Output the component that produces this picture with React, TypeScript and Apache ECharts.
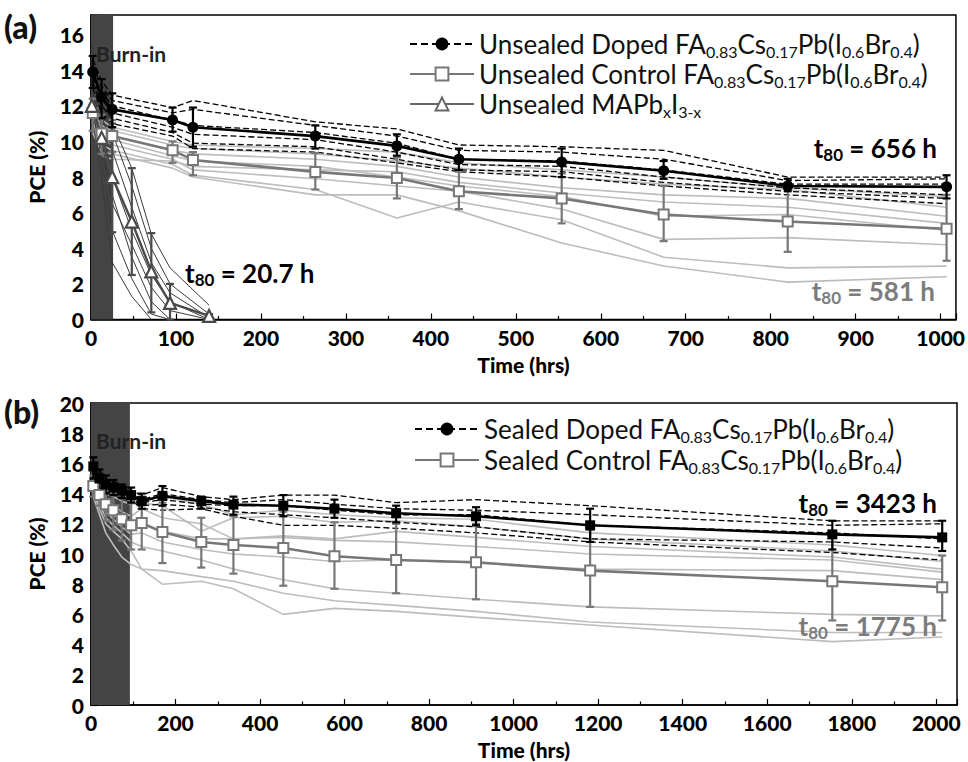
import React, { useEffect, useRef } from "react";
import * as echarts from "echarts";

// ---------- Panel (a): unsealed ----------
const xA = [2, 12.5, 25, 96, 120, 264, 360, 433, 554, 674, 820, 1007];
const dopedA = [13.9, 12.5, 11.8, 11.2, 10.8, 10.3, 9.75, 9.0, 8.85, 8.35, 7.5, 7.45];
const dopedALo = [13.0, 11.3, 10.8, 10.55, 9.7, 9.6, 9.2, 8.4, 8.0, 7.9, 7.2, 6.8];
const dopedAHi = [14.8, 13.5, 12.7, 11.9, 11.9, 10.9, 10.4, 9.6, 9.6, 8.9, 7.9, 8.1];
const controlA = [11.6, 10.45, 10.3, 9.5, 8.96, 8.29, 7.95, 7.2, 6.8, 5.9, 5.5, 5.1];
const controlALo = [10.6, 9.3, 9.4, 8.8, 8.1, 7.3, 6.8, 6.2, 5.4, 4.4, 3.8, 3.3];
const controlAHi = [12.4, 11.5, 11.2, 10.0, 9.4, 9.35, 9.1, 8.3, 8.2, 7.5, 7.4, 7.0];
const xM = [1, 12.5, 25, 48, 71, 93, 139];
const mapbiA = [12.0, 10.2, 8.0, 5.5, 2.7, 0.93, 0.2];
const mapbiALo = [null, null, 4.9, 2.5, 0.4, 0, 0];
const mapbiAHi = [null, null, 11.0, 8.5, 4.85, 2.0, 0.3];

const dopedATraces = [
  [14.6, 13.4, 12.6, 11.9, 12.3, 11.1, 10.7, 9.8, 9.7, 9.5, 8.0, 8.0],
  [14.2, 13.1, 12.3, 11.6, 11.8, 10.9, 10.3, 9.5, 9.4, 9.0, 7.8, 7.9],
  [13.8, 12.8, 12.0, 11.2, 10.9, 10.5, 9.9, 9.0, 8.9, 8.4, 7.6, 7.6],
  [13.6, 12.4, 11.6, 10.8, 10.4, 10.1, 9.4, 8.7, 8.6, 8.0, 7.4, 7.0],
  [13.3, 12.0, 11.3, 10.5, 9.9, 9.7, 9.0, 8.4, 8.3, 7.7, 7.2, 6.8],
  [13.0, 11.6, 11.0, 10.3, 9.6, 9.4, 8.8, 8.3, 8.0, 7.5, 7.0, 6.5],
];
const controlATraces = [
  [12.0, 11.2, 10.8, 10.0, 9.8, 9.6, 9.4, 8.8, 8.4, 8.0, 7.4, 6.9],
  [11.8, 10.9, 10.6, 9.8, 9.6, 9.3, 8.9, 8.5, 8.0, 7.6, 7.3, 6.3],
  [11.5, 10.7, 10.3, 9.5, 9.3, 9.0, 8.6, 8.0, 7.4, 7.0, 6.8, 5.8],
  [11.3, 10.4, 10.1, 9.2, 8.9, 8.6, 8.0, 7.5, 6.9, 5.8, 5.9, 5.0],
  [11.0, 10.1, 9.8, 9.0, 8.4, 7.9, 7.5, 7.2, 6.2, 4.5, 4.6, 4.2],
  [10.8, 9.8, 9.5, 8.7, 8.1, 7.3, 5.7, 6.6, 5.6, 3.5, 2.9, 3.0],
  [10.5, 9.4, 9.3, 8.5, 8.0, 7.0, 7.0, 6.1, 4.3, 3.0, 2.1, 2.4],
  [11.2, 9.2, 9.0, 8.9, 8.6, 8.4, 8.3, 7.7, 7.1, 6.6, 6.3, 5.4],
];
const mapbiATraces = [
  [15.5, 12.0, 11.0, 8.5, 4.8, 2.9, 0.8],
  [14.5, 12.3, 10.5, 7.5, 4.0, 2.0, 0.3],
  [13.8, 11.5, 9.5, 6.3, 3.2, 1.5, 0.1],
  [13.0, 10.8, 8.0, 5.0, 2.5, 1.0, 0],
  [12.5, 10.0, 7.0, 3.5, 1.0, 0, null],
  [12.0, 9.0, 5.0, 2.3, 0.3, 0, null],
  [11.5, 8.0, 3.2, 1.3, 0, null, null],
  [11.8, 9.5, 6.5, 4.2, 1.8, 0.5, 0],
];

// ---------- Panel (b): sealed ----------
const xB = [5.5, 20, 35, 53, 73, 95, 120, 169, 261, 337, 455, 576, 722, 911, 1181, 1754, 2014];
const dopedB = [15.8, 15.0, 14.6, 14.4, 14.2, 13.9, 13.5, 13.85, 13.5, 13.27, 13.2, 13.0, 12.7, 12.5, 11.9, 11.3, 11.1];
const dopedBLo = [15.0, 14.3, 14.0, 13.9, 13.7, 13.4, 13.0, 13.2, 13.0, 12.6, 12.5, 12.4, 12.1, 11.9, 10.8, 10.3, 10.2];
const dopedBHi = [16.4, 15.6, 15.2, 14.9, 14.6, 14.4, 14.0, 14.5, 13.8, 13.8, 13.9, 13.6, 13.2, 13.1, 13.0, 12.2, 12.2];
const controlB = [14.5, 13.9, 13.3, 12.9, 12.3, 11.9, 12.05, 11.45, 10.8, 10.6, 10.4, 9.85, 9.6, 9.45, 8.9, 8.2, 7.8];
const controlBLo = [13.8, 13.2, 12.2, 11.6, 10.9, 10.3, 10.3, 9.4, 9.1, 8.7, 7.9, 7.7, 7.4, 7.0, 6.5, 5.6, 5.6];
const controlBHi = [15.2, 14.6, 14.2, 14.0, 13.7, 13.5, 13.8, 13.4, 12.4, 12.5, 12.8, 12.1, 12.0, 12.0, 11.6, 10.8, 9.9];

const dopedBTraces = [
  [16.0, 15.6, 15.0, 14.8, 14.6, 14.2, 13.9, 14.4, 13.8, 13.6, 13.9, 13.9, 13.4, 13.6, 13.2, 12.2, 12.2],
  [15.8, 15.2, 14.8, 14.6, 14.4, 14.0, 13.6, 14.0, 13.6, 13.4, 13.6, 13.3, 13.0, 12.9, 12.6, 11.9, 12.0],
  [15.6, 14.8, 14.5, 14.3, 14.2, 13.9, 13.4, 13.6, 13.3, 13.2, 13.2, 12.9, 12.6, 12.6, 11.9, 11.4, 11.0],
  [15.4, 14.6, 14.3, 14.2, 14.0, 13.7, 13.2, 13.3, 13.1, 12.8, 12.6, 12.4, 12.1, 11.8, 11.0, 10.8, 10.4],
  [15.2, 14.3, 14.1, 14.0, 13.9, 13.6, 13.0, 12.9, 13.0, 12.5, 11.9, 11.9, 11.7, 11.4, 10.8, 10.1, 9.6],
];
const controlBTraces = [
  [15.0, 14.6, 14.3, 14.0, 13.9, 13.7, 13.5, 13.8, 13.3, 12.6, 12.9, 12.6, 12.4, 12.3, 11.4, 10.6, 9.9],
  [14.9, 14.3, 14.0, 13.8, 13.5, 13.3, 13.4, 13.2, 11.5, 12.4, 12.5, 12.1, 12.2, 11.8, 11.0, 10.2, 9.5],
  [14.7, 14.1, 13.6, 13.2, 12.8, 12.5, 13.0, 12.4, 12.0, 11.0, 11.2, 11.0, 11.5, 11.1, 10.5, 9.8, 9.0],
  [14.6, 13.8, 13.2, 12.6, 12.2, 11.9, 12.0, 11.5, 11.0, 11.0, 11.1, 10.9, 10.8, 10.5, 10.0, 9.6, 8.8],
  [14.5, 13.6, 12.8, 12.3, 11.8, 11.3, 11.4, 10.8, 10.3, 10.0, 9.8, 9.5, 9.6, 9.4, 9.0, 8.9, 8.3],
  [14.3, 13.3, 12.4, 11.9, 11.4, 10.8, 10.5, 10.2, 9.6, 9.0, 8.3, 7.7, 7.4, 7.0, 6.5, 6.0, 5.9],
  [14.1, 13.0, 12.0, 11.5, 11.0, 10.2, 9.0, 8.0, 8.2, 7.7, 6.0, 6.4, 6.2, 5.8, 5.3, 4.2, 4.5],
  [13.8, 12.6, 11.4, 10.6, 9.8, 9.3, 9.0, 8.9, 8.5, 8.2, 7.4, 6.9, 6.6, 6.2, 5.5, 4.8, 4.8],
];

const burnInA = 26;
const burnInB = 92;

const FONT = "Lato";

const pairs = (xs: number[], ys: (number | null)[]) =>
  xs.map((x, i) => [x, ys[i]]).filter((d) => d[1] !== null && d[1] !== undefined);

const triples = (xs: number[], lo: (number | null)[], hi: (number | null)[]) =>
  xs.map((x, i) => [x, lo[i], hi[i]]).filter((d) => d[1] !== null && d[2] !== null);

function traceSeries(ax: number, xs: number[], traces: (number | null)[][], lineStyle: any) {
  return traces.map((t) => ({
    type: "line",
    xAxisIndex: ax,
    yAxisIndex: ax,
    data: pairs(xs, t),
    symbol: "none",
    silent: true,
    z: 2,
    lineStyle,
  }));
}

function errSeries(ax: number, xs: number[], lo: any[], hi: any[], color: string, z: number) {
  return {
    type: "custom",
    xAxisIndex: ax,
    yAxisIndex: ax,
    silent: true,
    z,
    data: triples(xs, lo, hi),
    encode: { x: 0, y: [1, 2] },
    renderItem: (params: any, api: any) => {
      const x = api.value(0);
      const p1 = api.coord([x, api.value(1)]);
      const p2 = api.coord([x, api.value(2)]);
      const w = 4;
      const st = { stroke: color, lineWidth: 2.2 };
      return {
        type: "group",
        children: [
          { type: "line", shape: { x1: p1[0], y1: p1[1], x2: p2[0], y2: p2[1] }, style: st },
          { type: "line", shape: { x1: p1[0] - w, y1: p1[1], x2: p1[0] + w, y2: p1[1] }, style: st },
          { type: "line", shape: { x1: p2[0] - w, y1: p2[1], x2: p2[0] + w, y2: p2[1] }, style: st },
        ],
      };
    },
  };
}

const chem = (prefix: string) =>
  `{n|${prefix} FA}{s|0.83}{n|Cs}{s|0.17}{n|Pb(I}{s|0.6}{n|Br}{s|0.4}{n|)}`;

const legendNames: Record<string, string> = {
  "Unsealed Doped": chem("Unsealed Doped"),
  "Unsealed Control": chem("Unsealed Control"),
  "Unsealed MAPbI": "{n|Unsealed MAPb}{s|x}{n|I}{s|3-x}",
  "Sealed Doped": chem("Sealed Doped"),
  "Sealed Control": chem("Sealed Control"),
};

const richLegend = {
  n: { fontFamily: FONT, fontSize: 26, color: "#111", lineHeight: 30 },
  s: { fontFamily: FONT, fontSize: 16, color: "#111", lineHeight: 10, verticalAlign: "bottom" },
};

function richT(color: string) {
  return {
    b: { fontFamily: FONT, fontSize: 26, fontWeight: "bold", fill: color, lineHeight: 30 },
    s: { fontFamily: FONT, fontSize: 17, fontWeight: "bold", fill: color, lineHeight: 10, verticalAlign: "bottom" },
  };
}

function axisCommon(step: number, nameGap: number) {
  return {
    type: "value",
    axisLine: { show: true, onZero: false, lineStyle: { color: "#000", width: 1.5 } },
    axisTick: { show: true, inside: true, length: 6, lineStyle: { color: "#000", width: 1.2 } },
    minorTick: { show: true, splitNumber: 2, length: 3.5, lineStyle: { color: "#000", width: 1.2 } },
    splitLine: { show: false },
    axisLabel: {
      fontFamily: FONT,
      fontWeight: 900,
      fontSize: 21,
      color: "#000",
      margin: 7,
      formatter: (v: number) => (Math.abs(v / step - Math.round(v / step)) < 1e-6 ? String(Math.round(v)) : ""),
    },
    nameLocation: "middle",
    nameGap,
    nameTextStyle: { fontFamily: FONT, fontWeight: 900, fontSize: 21, color: "#000" },
  };
}

function dummyLegendSeries(ax: number, name: string, symbol: string, symbolSize: number, itemStyle: any, lineStyle: any) {
  return {
    type: "line",
    name,
    xAxisIndex: ax,
    yAxisIndex: ax,
    data: [],
    symbol,
    symbolSize,
    itemStyle,
    lineStyle,
  };
}

function burnSeries(ax: number, end: number) {
  return {
    type: "line",
    xAxisIndex: ax,
    yAxisIndex: ax,
    data: [[0, 0]],
    symbol: "none",
    lineStyle: { opacity: 0 },
    silent: true,
    z: 1,
    markArea: {
      silent: true,
      itemStyle: { color: "#444444", opacity: 1 },
      data: [[{ xAxis: 0 }, { xAxis: end }]],
    },
  };
}

export default function App() {
  const ref = useRef<HTMLDivElement>(null);
  useEffect(() => {
    if (!ref.current) return;
    const chart = echarts.init(ref.current, undefined, { renderer: "svg" });

    const dopedTraceStyle = { color: "#000", width: 1.3, type: [6, 3] };
    const controlTraceStyle = { color: "#bdbdbd", width: 1.6 };
    const mapbiTraceStyle = { color: "#3a3a3a", width: 1 };

    const series: any[] = [
      burnSeries(0, burnInA),
      burnSeries(1, burnInB),
      ...traceSeries(0, xA, controlATraces, controlTraceStyle),
      ...traceSeries(0, xM, mapbiATraces, mapbiTraceStyle),
      ...traceSeries(0, xA, dopedATraces, dopedTraceStyle),
      ...traceSeries(1, xB, controlBTraces, controlTraceStyle),
      ...traceSeries(1, xB, dopedBTraces, dopedTraceStyle),
      {
        type: "line", xAxisIndex: 0, yAxisIndex: 0, data: pairs(xA, controlA), z: 5,
        symbol: "rect", symbolSize: 10,
        itemStyle: { color: "#fff", borderColor: "#777", borderWidth: 2 },
        lineStyle: { color: "#777", width: 2.6 },
      },
      {
        type: "line", xAxisIndex: 0, yAxisIndex: 0, data: pairs(xM, mapbiA), z: 5,
        symbol: "triangle", symbolSize: 12,
        itemStyle: { color: "#fff", borderColor: "#4a4a4a", borderWidth: 2.2 },
        lineStyle: { color: "#4a4a4a", width: 2.4 },
      },
      {
        type: "line", xAxisIndex: 0, yAxisIndex: 0, data: pairs(xA, dopedA), z: 6,
        symbol: "circle", symbolSize: 11,
        itemStyle: { color: "#000" },
        lineStyle: { color: "#000", width: 2.6 },
      },
      errSeries(0, xA, controlALo, controlAHi, "#777", 4),
      errSeries(0, xM, mapbiALo, mapbiAHi, "#4a4a4a", 4),
      errSeries(0, xA, dopedALo, dopedAHi, "#000", 5),
      {
        type: "line", xAxisIndex: 1, yAxisIndex: 1, data: pairs(xB, controlB), z: 5,
        symbol: "rect", symbolSize: 10,
        itemStyle: { color: "#fff", borderColor: "#777", borderWidth: 2 },
        lineStyle: { color: "#777", width: 2.6 },
      },
      {
        type: "line", xAxisIndex: 1, yAxisIndex: 1, data: pairs(xB, dopedB), z: 6,
        symbol: "rect", symbolSize: 10,
        itemStyle: { color: "#000" },
        lineStyle: { color: "#000", width: 2.6 },
      },
      errSeries(1, xB, controlBLo, controlBHi, "#777", 4),
      errSeries(1, xB, dopedBLo, dopedBHi, "#000", 5),
      dummyLegendSeries(0, "Unsealed Doped", "circle", 13, { color: "#000" }, { color: "#000", width: 2.5, type: [7, 4] }),
      dummyLegendSeries(0, "Unsealed Control", "rect", 13, { color: "#fff", borderColor: "#777", borderWidth: 2.5 }, { color: "#777", width: 3 }),
      dummyLegendSeries(0, "Unsealed MAPbI", "triangle", 13, { color: "#fff", borderColor: "#666", borderWidth: 2.5 }, { color: "#666", width: 3 }),
      dummyLegendSeries(1, "Sealed Doped", "circle", 13, { color: "#000" }, { color: "#000", width: 2.5, type: [7, 4] }),
      dummyLegendSeries(1, "Sealed Control", "rect", 13, { color: "#fff", borderColor: "#777", borderWidth: 2.5 }, { color: "#777", width: 3 }),
    ];

    const legendCommon = {
      orient: "vertical",
      itemWidth: 64,
      itemHeight: 16,
      selectedMode: false,
      formatter: (name: string) => legendNames[name],
      textStyle: { rich: richLegend },
    };

    const option: any = {
      animation: false,
      backgroundColor: "#fff",
      grid: [
        { left: 91, right: 11, top: 15, height: 304.5, show: true, borderColor: "#000", borderWidth: 1.5 },
        { left: 91, right: 11, top: 403, height: 302, show: true, borderColor: "#000", borderWidth: 1.5 },
      ],
      xAxis: [
        { ...axisCommon(100, 34), gridIndex: 0, min: 0, max: 1018, interval: 100, name: "Time (hrs)" },
        { ...axisCommon(200, 34), gridIndex: 1, min: 0, max: 2049, interval: 200, name: "Time (hrs)" },
      ],
      yAxis: [
        { ...axisCommon(2, 44), gridIndex: 0, min: 0, max: 17.1, interval: 2, name: "PCE (%)" },
        { ...axisCommon(2, 44), gridIndex: 1, min: 0, max: 20, interval: 2, name: "PCE (%)" },
      ],
      legend: [
        { ...legendCommon, left: 404, top: 26, itemGap: 2, data: ["Unsealed Doped", "Unsealed Control", "Unsealed MAPbI"] },
        { ...legendCommon, left: 409, top: 411, itemGap: 3, data: ["Sealed Doped", "Sealed Control"] },
      ],
      series,
      graphic: [
        { type: "text", z: 100, left: 4, top: 10, style: { text: "(a)", fontFamily: FONT, fontWeight: 900, fontSize: 32, fill: "#111" } },
        { type: "text", z: 100, left: 4, top: 395, style: { text: "(b)", fontFamily: FONT, fontWeight: 900, fontSize: 32, fill: "#111" } },
        { type: "text", z: 100, x: 96, y: 53, style: { text: "Burn-in", fontFamily: FONT, fontWeight: "bold", fontSize: 21, fill: "#222", verticalAlign: "middle" } },
        { type: "text", z: 100, x: 96, y: 440, style: { text: "Burn-in", fontFamily: FONT, fontWeight: "bold", fontSize: 21, fill: "#222", verticalAlign: "middle" } },
        { type: "text", z: 100, x: 937, y: 148, style: { text: "{b|t}{s|80}{b| = 656 h}", rich: richT("#000"), fill: "#000", align: "right", verticalAlign: "middle" } },
        { type: "text", z: 100, x: 185, y: 273, style: { text: "{b|t}{s|80}{b| = 20.7 h}", rich: richT("#000"), fill: "#000", align: "left", verticalAlign: "middle" } },
        { type: "text", z: 100, x: 935, y: 291, style: { text: "{b|t}{s|80}{b| = 581 h}", rich: richT("#7c7c7c"), fill: "#7c7c7c", align: "right", verticalAlign: "middle" } },
        { type: "text", z: 100, x: 937, y: 503, style: { text: "{b|t}{s|80}{b| = 3423 h}", rich: richT("#000"), fill: "#000", align: "right", verticalAlign: "middle" } },
        { type: "text", z: 100, x: 937, y: 626, style: { text: "{b|t}{s|80}{b| = 1775 h}", rich: richT("#7c7c7c"), fill: "#7c7c7c", align: "right", verticalAlign: "middle" } },
      ],
    };

    chart.setOption(option);
    return () => chart.dispose();
  }, []);

  return <div ref={ref} style={{ width: 968, height: 762, position: "absolute", left: 0, top: 0 }} />;
}
